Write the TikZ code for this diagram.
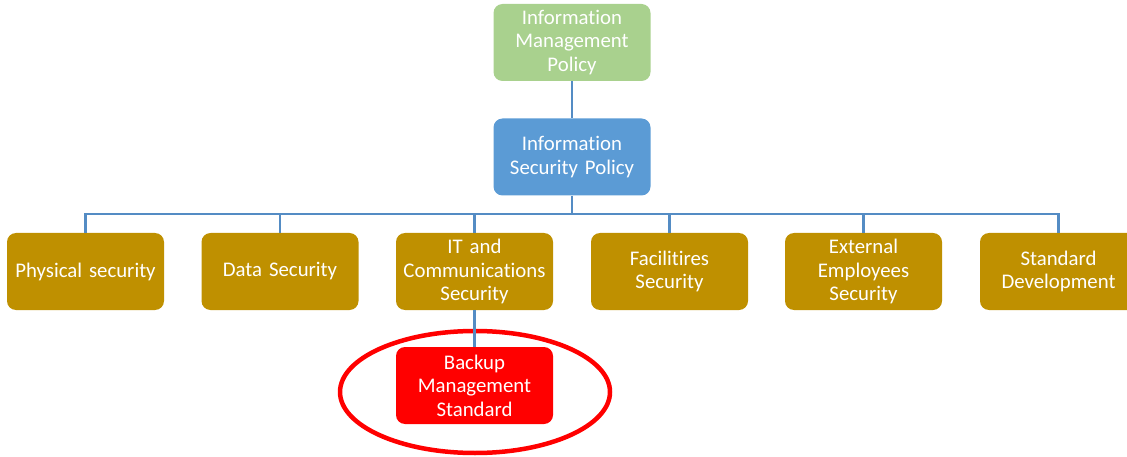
\documentclass[tikz,border=0pt]{standalone}
\usepackage{fontspec}
\setmainfont[Ligatures=NoCommon]{Carlito}
\usetikzlibrary{shapes.geometric}
\definecolor{topgreen}{RGB}{169,209,142}
\definecolor{policyblue}{RGB}{91,155,213}
\definecolor{stdgold}{RGB}{191,144,0}
\definecolor{linkblue}{RGB}{84,140,196}
\tikzset{
  box/.style={rounded corners=9pt,minimum width=157pt,minimum height=77pt,
    text width=155pt,align=center,inner sep=0pt,text=white,
    font=\fontsize{20.8}{23.5}\selectfont},
  stdbox/.style={box,fill=stdgold},
  link/.style={draw=linkblue,line width=2.6pt}
}

\begin{document}
\begin{tikzpicture}[x=1pt,y=-1pt]
\useasboundingbox (0,0) rectangle (1127,457);
\node[box,fill=topgreen] (imp) at (572,42.5) {Information\\Management\\Policy};
\node[box,fill=policyblue] (isp) at (572,157) {Information\\Security Policy};
\node[stdbox] (phys) at (85.5,271.5) {Physical security};
\node[stdbox] (data) at (280,271.5) {Data Security};
\node[stdbox] (itc) at (474.5,271.5) {IT and\\Communications\\Security};
\node[stdbox] (fac) at (669.5,271.5) {Facilitires\\Security};
\node[stdbox] (ext) at (863.5,271.5) {External\\Employees\\Security};
\node[stdbox] (stddev) at (1058.5,271.5) {Standard\\Development};
\node[box,fill=red] (backup) at (474.5,385.5) {Backup\\Management\\Standard};
\node[draw=red,line width=4.5pt,ellipse,minimum width=270pt,minimum height=122pt] (mark) at (475,392) {};
% connectors
\coordinate (bus) at (572,214);
\draw[link] (imp) -- (isp);
\draw[link] (isp) -- (bus);
\draw[link] (phys.north) |- (bus) -| (stddev.north);
\foreach \n in {data,itc,fac,ext}
  \draw[link] (\n.north) -- (\n.north |- bus);
\draw[link] (itc) -- (backup);
\end{tikzpicture}
\end{document}
